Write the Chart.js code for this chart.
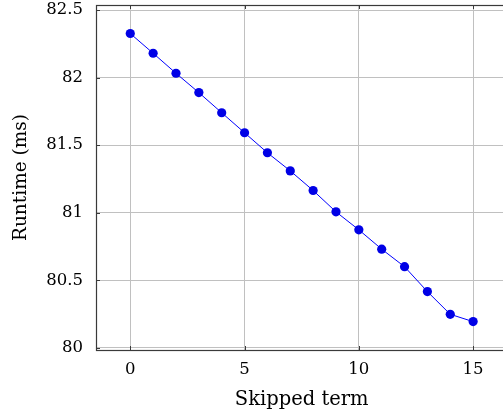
<!DOCTYPE html>
<html><head><meta charset="utf-8">
<script src="https://cdn.jsdelivr.net/npm/chart.js@4/dist/chart.umd.min.js"></script>
<style>html,body{margin:0;padding:0;overflow:hidden;background:#fff}#wrap{width:512px;height:412px}</style>
</head><body><div id="wrap"><canvas id="c" width="512" height="412"></canvas></div>
<script>
const skippedTerm = [0,1,2,3,4,5,6,7,8,9,10,11,12,13,14,15];
const runtimeMs = [82.326,82.180,82.032,81.889,81.740,81.592,81.444,81.310,81.165,81.007,80.874,80.731,80.601,80.417,80.249,80.195];
const xTicks = [0,5,10,15];
const yTicks = [80,80.5,81,81.5,82,82.5];
const xLabel = 'Skipped term';
const yLabel = 'Runtime (ms)';

const FONT = "'DejaVu Serif', 'Liberation Serif', serif";

const boxPlugin = {
  id: 'box',
  afterDatasetsDraw(chart) {
    const {ctx, chartArea: a, scales} = chart;
    ctx.save();
    ctx.strokeStyle = '#3a3a3a';
    ctx.lineWidth = 1;
    const tl = 4;
    ctx.beginPath();
    xTicks.forEach(v => {
      const x = Math.round(scales.x.getPixelForValue(v)) + 0.5;
      ctx.moveTo(x, a.bottom); ctx.lineTo(x, a.bottom - tl);
      ctx.moveTo(x, a.top); ctx.lineTo(x, a.top + tl);
    });
    yTicks.forEach(v => {
      const y = Math.round(scales.y.getPixelForValue(v)) + 0.5;
      ctx.moveTo(a.left, y); ctx.lineTo(a.left + tl, y);
      ctx.moveTo(a.right, y); ctx.lineTo(a.right - tl, y);
    });
    ctx.stroke();
    ctx.lineWidth = 1.2;
    ctx.strokeRect(Math.round(a.left)+0.5, Math.round(a.top)+0.5, Math.round(a.right-a.left), Math.round(a.bottom-a.top));
    ctx.restore();
  }
};

new Chart(document.getElementById('c'), {
  type: 'scatter',
  data: {
    datasets: [{
      data: skippedTerm.map((x,i)=>({x, y: runtimeMs[i]})),
      showLine: true,
      borderColor: '#0000ff',
      backgroundColor: '#0000e6',
      borderWidth: 1,
      pointRadius: 4.6,
      pointBorderWidth: 0,
      pointHoverRadius: 4.6,
      clip: false
    }]
  },
  options: {
    responsive: false,
    animation: false,
    devicePixelRatio: 1,
    layout: {padding: {top: 5, right: 2, left: 0, bottom: 0}},
    plugins: {legend: {display: false}, tooltip: {enabled: false}},
    scales: {
      x: {
        type: 'linear', min: -1.5, max: 16.5,
        afterBuildTicks(s){ s.ticks = xTicks.map(v=>({value:v})); },
        afterFit(s){ s.height = 62; s.paddingLeft = 0; s.paddingRight = 0; },
        grid: {color: '#c0c0c0', lineWidth: 1, drawTicks: false},
        border: {display: false},
        ticks: {color: '#000', padding: 10, font: {family: FONT, size: 16.5}},
        title: {display: true, text: xLabel, color: '#000', font: {family: FONT, size: 19.5}, padding: {top: 4, bottom: 0}}
      },
      y: {
        type: 'linear', min: 79.985, max: 82.537,
        afterBuildTicks(s){ s.ticks = yTicks.map(v=>({value:v})); },
        afterFit(s){ s.width = 96; s.paddingTop = 0; s.paddingBottom = 0; },
        grid: {color: '#c0c0c0', lineWidth: 1, drawTicks: false},
        border: {display: false},
        ticks: {color: '#000', padding: 13, font: {family: FONT, size: 16.5}, callback: v => String(v)},
        title: {display: true, text: yLabel, color: '#000', font: {family: FONT, size: 18.5}, padding: {top: 10, bottom: 4}}
      }
    }
  },
  plugins: [boxPlugin]
});
</script>
</body></html>
